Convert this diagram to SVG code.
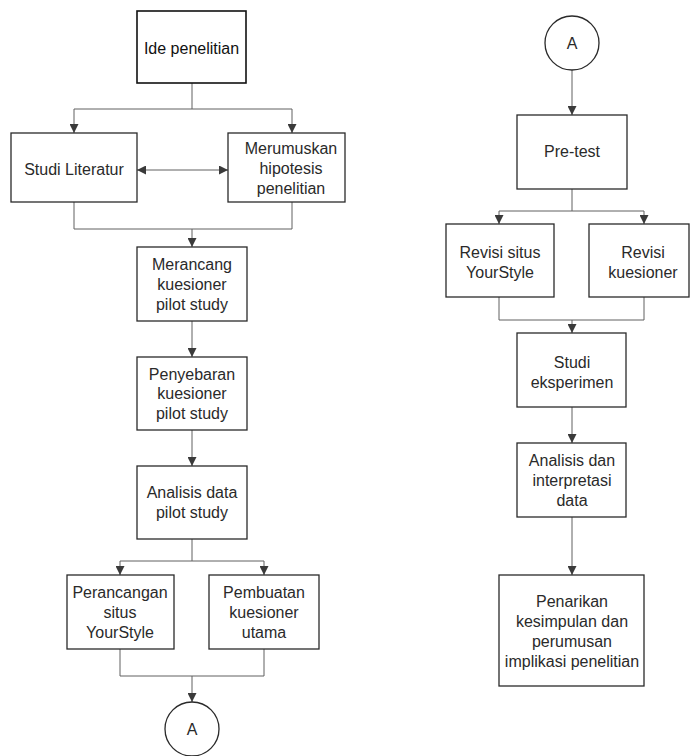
<svg xmlns="http://www.w3.org/2000/svg" width="690" height="756" viewBox="0 0 690 756">
<defs>
<style>
.box{fill:#ffffff;stroke:#2a2a2a;stroke-width:1.3}
.circ{fill:#ffffff;stroke:#2a2a2a;stroke-width:1.3}
.t{font-family:"Liberation Sans",Arial,sans-serif;font-size:16px;fill:#2a2a2a;text-anchor:middle}
.c{fill:none;stroke:#606060;stroke-width:1}
.a{marker-end:url(#ah)}
</style>
<marker id="ah" viewBox="0 0 10 10" refX="10" refY="5" markerWidth="9" markerHeight="9" markerUnits="userSpaceOnUse" orient="auto-start-reverse">
<path d="M0,0 L10,5 L0,10 z" fill="#3a3a3a"/>
</marker>
</defs>
<rect width="690" height="756" fill="#ffffff"/>

<g id="connectors">
<path class="c" d="M192,83 V109 M74,109 H292"/>
<path class="c a" d="M74,109 V133"/>
<path class="c a" d="M292,109 V133"/>
<path class="c" d="M137,170 H228" marker-start="url(#ah)" marker-end="url(#ah)"/>
<path class="c" d="M74,202 V229 H292 V202"/>
<path class="c a" d="M192,229 V247"/>
<path class="c a" d="M192,321 V357"/>
<path class="c a" d="M192,430 V466"/>
<path class="c" d="M192,539 V561 M120,561 H264"/>
<path class="c a" d="M120,561 V575"/>
<path class="c a" d="M264,561 V575"/>
<path class="c" d="M120,649 V676 H264 V649"/>
<path class="c a" d="M192,676 V702"/>
<path class="c a" d="M572,70 V115"/>
<path class="c" d="M572,189 V211 M499,211 H644"/>
<path class="c a" d="M499,211 V224"/>
<path class="c a" d="M644,211 V224"/>
<path class="c" d="M499,297 V320 H644 V297"/>
<path class="c a" d="M572,320 V333"/>
<path class="c a" d="M572,407 V443"/>
<path class="c a" d="M572,517 V575"/>
</g>

<g id="ide">
<rect class="box" x="137" y="11" width="109" height="72" style="stroke:#111;stroke-width:1.6"/>
<text class="t" x="191.5" y="54" style="fill:#111">Ide penelitian</text>
</g>
<g id="studi-literatur">
<rect class="box" x="11" y="133" width="126" height="69"/>
<text class="t" x="74" y="175">Studi Literatur</text>
</g>
<g id="merumuskan">
<rect class="box" x="228" y="133" width="117" height="69"/>
<text class="t" x="291" y="154">Merumuskan</text>
<text class="t" x="291" y="174">hipotesis</text>
<text class="t" x="291" y="194">penelitian</text>
</g>
<g id="merancang">
<rect class="box" x="137" y="247" width="110" height="74"/>
<text class="t" x="192" y="270">Merancang</text>
<text class="t" x="192" y="290">kuesioner</text>
<text class="t" x="192" y="310">pilot study</text>
</g>
<g id="penyebaran">
<rect class="box" x="137" y="357" width="110" height="73"/>
<text class="t" x="192" y="380">Penyebaran</text>
<text class="t" x="192" y="399">kuesioner</text>
<text class="t" x="192" y="419">pilot study</text>
</g>
<g id="analisis-data">
<rect class="box" x="137" y="466" width="110" height="73"/>
<text class="t" x="192" y="498">Analisis data</text>
<text class="t" x="192" y="518">pilot study</text>
</g>
<g id="perancangan">
<rect class="box" x="67" y="575" width="107" height="74"/>
<text class="t" x="120" y="598">Perancangan</text>
<text class="t" x="120" y="618">situs</text>
<text class="t" x="120" y="638">YourStyle</text>
</g>
<g id="pembuatan">
<rect class="box" x="209" y="575" width="110" height="74"/>
<text class="t" x="264" y="598">Pembuatan</text>
<text class="t" x="264" y="618">kuesioner</text>
<text class="t" x="264" y="638">utama</text>
</g>
<g id="a-bottom">
<circle class="circ" cx="192" cy="729" r="27"/>
<text class="t" x="192" y="735">A</text>
</g>

<g id="a-top">
<circle class="circ" cx="572" cy="43" r="27"/>
<text class="t" x="572" y="49">A</text>
</g>
<g id="pretest">
<rect class="box" x="517" y="115" width="110" height="74"/>
<text class="t" x="572" y="157">Pre-test</text>
</g>
<g id="revisi-situs">
<rect class="box" x="446" y="224" width="108" height="73"/>
<text class="t" x="500" y="258">Revisi situs</text>
<text class="t" x="500" y="278">YourStyle</text>
</g>
<g id="revisi-kuesioner">
<rect class="box" x="589" y="224" width="100" height="73"/>
<text class="t" x="643" y="258">Revisi</text>
<text class="t" x="643" y="278">kuesioner</text>
</g>
<g id="studi-eksperimen">
<rect class="box" x="517" y="333" width="109" height="74"/>
<text class="t" x="572" y="368">Studi</text>
<text class="t" x="572" y="388">eksperimen</text>
</g>
<g id="analisis-dan">
<rect class="box" x="517" y="443" width="109" height="74"/>
<text class="t" x="572" y="466">Analisis dan</text>
<text class="t" x="572" y="486">interpretasi</text>
<text class="t" x="572" y="506">data</text>
</g>
<g id="penarikan">
<rect class="box" x="499" y="575" width="145" height="111"/>
<text class="t" x="572" y="607">Penarikan</text>
<text class="t" x="572" y="627">kesimpulan dan</text>
<text class="t" x="572" y="647">perumusan</text>
<text class="t" x="572" y="667">implikasi penelitian</text>
</g>
</svg>
